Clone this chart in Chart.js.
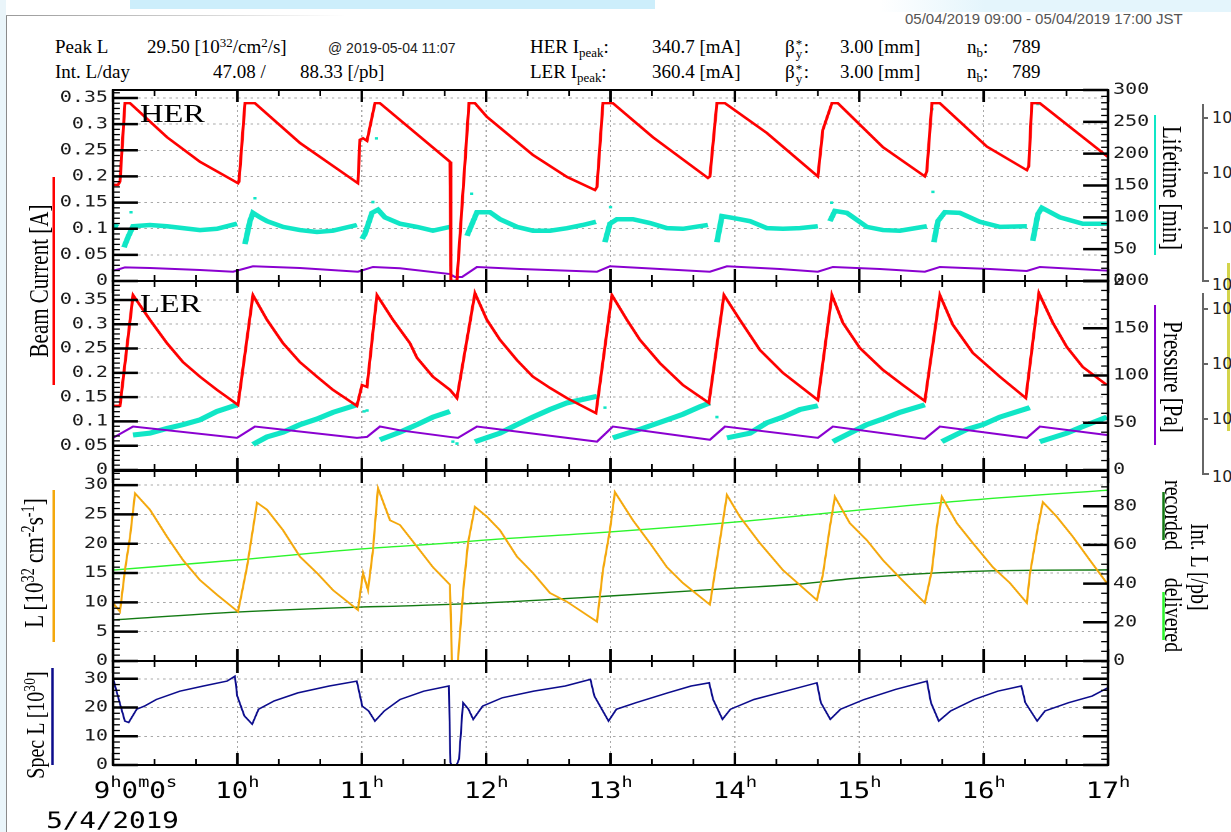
<!DOCTYPE html>
<html>
<head>
<meta charset="utf-8">
<script src="https://cdn.jsdelivr.net/npm/chart.js@4.4.1/dist/chart.umd.min.js"></script>
<style>
html, body { margin: 0; padding: 0; background: #fff; width: 1231px; height: 832px; overflow: hidden; }
body { position: relative; font-family: 'Liberation Serif', serif; color: #000; }
#stage { position: absolute; left: 0; top: 0; width: 985px; height: 832px; transform: scaleX(1.24975); transform-origin: 0 0; }
#stage canvas { position: absolute; left: 0; top: 0; }
.hd { position: absolute; font-size: 19px; line-height: 1; white-space: nowrap; }
.hs { position: absolute; font-family: 'Liberation Sans', sans-serif; font-size: 14px; line-height: 1; white-space: nowrap; color: #222; }
.hd sup, .tl sup, .tr sup { font-size: 0.68em; vertical-align: 0; position: relative; top: -0.5em; }
.hd sub { font-size: 0.68em; vertical-align: 0; position: relative; top: 0.3em; }
.ss { display: inline-block; position: relative; width: 9px; height: 10px; }
.ss i { position: absolute; left: 1px; font-style: normal; font-size: 13px; }
.tl, .tr { position: absolute; white-space: nowrap; font-size: 21px; line-height: 1; }
.tl { transform: translate(-50%, -50%) rotate(-90deg); }
.tr { transform: translate(-50%, -50%) rotate(90deg); }
.bar { position: absolute; }
.big { position: absolute; font-size: 26px; line-height: 1; }
.ten { position: absolute; font-family: 'DejaVu Sans', sans-serif; font-size: 16px; line-height: 1; color: #222; }
</style>
</head>
<body>
<!-- page decoration -->
<div class="bar" style="left:0;top:0;width:6px;height:832px;background:#eaf5fa"></div>
<div class="bar" style="left:6px;top:15px;width:1px;height:817px;background:#8a8a8a"></div>
<div class="bar" style="left:6px;top:15px;width:340px;height:1px;background:linear-gradient(to right,#9a9a9a,#ffffff)"></div>
<div class="bar" style="left:130px;top:0;width:525px;height:9px;background:#cdeefb"></div>
<div class="bar" style="left:880px;top:0;width:351px;height:12px;background:linear-gradient(to right,#ffffff,#e4f5fc 30%,#e4f5fc)"></div>

<div class="hs" style="left:905px;top:11px;font-size:15px;color:#555">05/04/2019 09:00 - 05/04/2019 17:00 JST</div>

<div class="hd" style="left:55px;top:37px">Peak L</div>
<div class="hd" style="left:147px;top:37px">29.50 [10<sup>32</sup>/cm<sup>2</sup>/s]</div>
<div class="hs" style="left:328px;top:41px">@ 2019-05-04 11:07</div>
<div class="hd" style="left:530px;top:37px">HER I<sub>peak</sub>:</div>
<div class="hd" style="left:652px;top:37px">340.7 [mA]</div>
<div class="hd" style="left:785px;top:37px">β<span class="ss"><i style="top:-6px">*</i><i style="top:4px">y</i></span>:</div>
<div class="hd" style="left:840px;top:37px">3.00 [mm]</div>
<div class="hd" style="left:967px;top:37px">n<sub>b</sub>:</div>
<div class="hd" style="left:1012px;top:37px">789</div>

<div class="hd" style="left:55px;top:62px">Int. L/day</div>
<div class="hd" style="left:213px;top:62px">47.08 /</div>
<div class="hd" style="left:300px;top:62px">88.33 [/pb]</div>
<div class="hd" style="left:530px;top:62px">LER I<sub>peak</sub>:</div>
<div class="hd" style="left:652px;top:62px">360.4 [mA]</div>
<div class="hd" style="left:785px;top:62px">β<span class="ss"><i style="top:-6px">*</i><i style="top:4px">y</i></span>:</div>
<div class="hd" style="left:840px;top:62px">3.00 [mm]</div>
<div class="hd" style="left:967px;top:62px">n<sub>b</sub>:</div>
<div class="hd" style="left:1012px;top:62px">789</div>

<!-- cut-off neighbouring axis on the far right -->
<div class="bar" style="left:1202px;top:104px;width:2px;height:178px;background:#666"></div>
<div class="bar" style="left:1202px;top:280px;width:7px;height:2px;background:#666"></div>
<div class="bar" style="left:1202px;top:293px;width:2px;height:182px;background:#666"></div>
<div class="bar" style="left:1202px;top:473px;width:7px;height:2px;background:#666"></div>
<div class="bar" style="left:1202px;top:117px;width:6px;height:2px;background:#666"></div>
<div class="bar" style="left:1202px;top:172px;width:6px;height:2px;background:#666"></div>
<div class="bar" style="left:1202px;top:227px;width:6px;height:2px;background:#666"></div>
<div class="bar" style="left:1202px;top:308px;width:6px;height:2px;background:#666"></div>
<div class="bar" style="left:1202px;top:363px;width:6px;height:2px;background:#666"></div>
<div class="bar" style="left:1202px;top:418px;width:6px;height:2px;background:#666"></div>
<div class="bar" style="left:1227px;top:263px;width:3px;height:168px;background:#d4d44a"></div>
<div class="ten" style="left:1212px;top:110px">10</div>
<div class="ten" style="left:1212px;top:165px">10</div>
<div class="ten" style="left:1212px;top:220px">10</div>
<div class="ten" style="left:1212px;top:277px">10</div>
<div class="ten" style="left:1212px;top:301px">10</div>
<div class="ten" style="left:1212px;top:356px">10</div>
<div class="ten" style="left:1212px;top:411px">10</div>
<div class="ten" style="left:1212px;top:469px">10</div>

<div id="stage">
  <canvas id="c1" width="985" height="832"></canvas>
  <canvas id="c2" width="985" height="832"></canvas>
  <canvas id="c3" width="985" height="832"></canvas>
  <canvas id="c4" width="985" height="832"></canvas>

  <div class="big" style="left:112px;top:101px">HER</div>
  <div class="big" style="left:112px;top:291px">LER</div>

  <div class="tl" style="left:32px;top:281px">Beam Current [A]</div>
  <div class="bar" style="left:41.6px;top:177px;width:2px;height:208px;background:#ff0000"></div>
  <div class="tl" style="left:28px;top:563px">L [10<sup>32</sup> cm<sup>-2</sup>s<sup>-1</sup>]</div>
  <div class="bar" style="left:41.6px;top:490px;width:2px;height:152px;background:#f4a80c"></div>
  <div class="tl" style="left:28px;top:725px;font-size:20px">Spec L [10<sup>30</sup>]</div>
  <div class="bar" style="left:41px;top:668px;width:2px;height:97px;background:#0c0c8c"></div>

  <div class="tr" style="left:937px;top:188px">Lifetime [min]</div>
  <div class="bar" style="left:922.6px;top:115px;width:2px;height:140px;background:#10e6c6"></div>
  <div class="tr" style="left:938px;top:377px">Pressure [Pa]</div>
  <div class="bar" style="left:922.6px;top:305px;width:2px;height:140px;background:#8a00d0"></div>
  <div class="tr" style="left:939px;top:515px;font-size:20px">recorded</div>
  <div class="bar" style="left:929.8px;top:492px;width:2px;height:48px;background:#137a13"></div>
  <div class="tr" style="left:939px;top:615px;font-size:20px">delivered</div>
  <div class="bar" style="left:929.8px;top:592px;width:2px;height:48px;background:#2cf52c"></div>
  <div class="tr" style="left:960px;top:567px;font-size:20px">Int. L [/pb]</div>
</div>

<script>
// ---- time axis ----
const X_MIN = 9, X_MAX = 17;
const hourTicks = [9, 10, 11, 12, 13, 14, 15, 16, 17];
const hourLabels = ['9^h0^m0^s', '10^h', '11^h', '12^h', '13^h', '14^h', '15^h', '16^h', '17^h'];
const dateLabel = '5/4/2019';

// ---- HER panel ----
const herT = [9.000,9.040,9.056,9.096,9.137,9.434,9.699,10.005,10.013,10.061,10.141,10.503,10.969,10.985,11.010,11.042,11.106,11.146,11.307,11.709,11.717,11.765,11.862,11.910,12.006,12.376,12.650,12.875,12.891,12.939,13.019,13.341,13.783,13.799,13.855,13.920,14.257,14.667,14.707,14.780,14.828,15.190,15.527,15.543,15.584,15.648,16.026,16.347,16.363,16.387,16.452,17.000];
const herI = [0.184,0.184,0.19,0.34,0.34,0.275,0.228,0.187,0.19,0.34,0.34,0.264,0.187,0.27,0.273,0.268,0.34,0.34,0.308,0.228,0,0,0.34,0.34,0.314,0.241,0.199,0.174,0.18,0.34,0.34,0.275,0.197,0.2,0.34,0.34,0.283,0.2,0.289,0.34,0.34,0.256,0.2,0.21,0.34,0.34,0.257,0.212,0.22,0.34,0.34,0.237];

const herLifeT = [9.000,9.040,9.060, 9.088,9.121,9.161,9.297,9.434,9.563,9.699,9.836,9.997,10.030, 10.061,10.101,10.125,10.182,10.238,10.367,10.503,10.640,10.768,10.961,10.980, 11.002,11.026,11.082,11.130,11.186,11.307,11.444,11.572,11.709,11.780, 11.846,11.870,11.926,12.031,12.111,12.248,12.376,12.513,12.650,12.778,12.883,12.920, 12.955,12.995,13.051,13.180,13.317,13.453,13.582,13.783,13.820, 13.855,13.896,13.984,14.121,14.257,14.386,14.523,14.667,14.720, 14.764,14.804,14.900,15.061,15.190,15.326,15.543,15.570, 15.600,15.632,15.688,15.809,15.969,16.130,16.347,16.370, 16.395,16.436,16.468,16.613,16.797,16.990];
const herLife = [88,85,null, 53,69,86,88,86,83,80,82,90,null, 58,94,107,100,94,85,80,77,79,88,null, 66,74,107,112,100,90,85,79,85,null, 71,82,108,108,97,85,79,79,83,88,93,null, 61,90,97,97,91,83,82,88,null, 61,102,99,94,83,82,83,86,null, 94,110,107,85,80,79,86,null, 61,94,108,107,93,85,86,null, 63,105,115,100,90,90];
const herOutT = [9.145,10.141,11.090,11.118,11.883,13.000,14.777,15.584,15.592,16.436];
const herOut = [108,130,124,224,137,116,123,270,140,278];

const herPresT = [9.000,9.056,9.096,9.297,9.699,9.965,10.125,10.503,10.969,11.090,11.307,11.709,11.749,11.806,11.926,12.272,12.891,12.995,13.397,13.799,13.936,14.362,14.667,14.788,15.166,15.527,15.648,16.050,16.347,16.452,17.000];
const herPres = [10.8,12.6,14.3,13.6,11.5,9.7,15.4,13.6,9.7,14.7,13.3,7.3,4.2,4.2,14.7,12.6,9.7,15.4,12.6,9.7,15.4,12.6,9.7,14.7,12.6,9.7,14.7,12.6,10.5,14.7,10.8];

// ---- LER panel ----
const lerT = [9.000,9.056,9.161,9.297,9.434,9.563,9.699,9.836,10.005,10.125,10.238,10.367,10.503,10.640,10.768,10.961,11.002,11.042,11.122,11.251,11.387,11.444,11.572,11.709,11.765,11.910,12.006,12.111,12.248,12.376,12.513,12.650,12.883,13.011,13.132,13.236,13.397,13.582,13.791,13.912,14.040,14.201,14.386,14.667,14.780,14.868,15.005,15.190,15.350,15.527,15.648,15.752,15.913,16.130,16.339,16.444,16.556,16.669,16.797,16.990];
const lerI = [0.132,0.132,0.36,0.309,0.261,0.222,0.192,0.165,0.134,0.36,0.309,0.261,0.222,0.192,0.165,0.132,0.175,0.171,0.36,0.309,0.261,0.231,0.192,0.165,0.148,0.364,0.309,0.268,0.226,0.192,0.169,0.148,0.117,0.36,0.309,0.268,0.22,0.175,0.138,0.36,0.309,0.247,0.2,0.144,0.36,0.303,0.251,0.206,0.175,0.142,0.36,0.299,0.241,0.192,0.148,0.364,0.303,0.253,0.212,0.175];

const lerLifeT = [9.161,9.297,9.434,9.563,9.699,9.836,9.997,10.060, 10.125,10.238,10.367,10.503,10.640,10.768,10.961,11.050, 11.146,11.307,11.444,11.572,11.709,11.800, 11.910,12.111,12.248,12.376,12.513,12.650,12.891,12.950, 13.019,13.236,13.453,13.582,13.719,13.799,13.870, 13.936,14.121,14.257,14.386,14.523,14.667,14.720, 14.788,14.924,15.061,15.190,15.326,15.527,15.600, 15.664,15.865,15.994,16.130,16.371,16.410, 16.452,16.669,16.797,16.990];
const lerLife = [37,39,44,48,53,62,69,null, 27,35,40,48,54,61,69,null, 32,40,48,56,62,null, 30,39,48,56,64,71,78,null, 34,43,53,59,67,71,null, 34,39,50,56,64,68,null, 30,39,48,54,61,69,null, 30,43,48,56,66,null, 30,39,46,56];
const lerOutT = [11.018,11.042,11.733,11.765,12.955,13.855];
const lerOut = [62,63,30,28,66,56];

const lerPresT = [9.000,9.161,9.997,10.141,10.961,11.042,11.146,11.307,11.709,11.773,11.926,12.891,13.019,13.799,13.920,14.667,14.788,15.527,15.648,16.347,16.452,16.990];
const lerPres = [34,46,34,46,34,35,46,42,35,34,46,30,46,32,46,34,46,33,46,34,46,37];

// ---- luminosity panel ----
const lumT = [9.000,9.056,9.096,9.137,9.177,9.297,9.434,9.563,9.699,9.836,10.005,10.077,10.158,10.238,10.367,10.503,10.640,10.768,10.969,11.010,11.050,11.090,11.130,11.227,11.307,11.444,11.572,11.709,11.725,11.773,11.814,11.854,11.910,12.006,12.111,12.248,12.376,12.513,12.650,12.891,12.939,12.995,13.035,13.180,13.317,13.453,13.582,13.799,13.855,13.936,14.040,14.201,14.386,14.659,14.707,14.764,14.804,14.924,15.061,15.190,15.326,15.527,15.584,15.624,15.664,15.785,15.913,16.074,16.211,16.347,16.371,16.436,16.476,16.588,16.717,16.854,16.990];
const lum = [9.9,8.4,15.5,21.2,28.6,25.8,21.2,17.2,13.8,11.3,8.4,16.0,27.0,25.8,22.3,17.8,15.0,12.1,8.7,15.0,12.1,18.9,29.5,24.0,23.2,19.5,16.0,13.0,0,0,11.6,20.1,26.3,24.6,22.3,17.8,15.0,11.6,10.1,6.7,15.5,22.3,28.8,24.0,20.1,16.0,13.3,9.6,17.2,28.3,24.6,20.1,15.5,10.4,14.7,22.9,28.0,23.5,20.6,17.2,14.2,9.9,15.5,22.9,28.0,23.5,20.1,16.0,13.3,9.9,14.7,22.9,27.1,24.6,21.2,17.2,13.3];
const delT = [9.000,9.997,10.994,11.709,11.990,12.995,14.000,14.997,16.002,17.000];
const delivered = [47.0,52.2,57.9,61.0,62.5,66.7,71.8,78.0,83.7,88.3];
const recT = [9.000,9.997,10.994,11.307,11.990,12.995,14.000,14.523,14.997,16.002,17.000];
const recorded = [21.2,25.3,27.9,28.4,30.0,33.6,37.7,39.8,42.9,46.5,47.1];

// ---- specific luminosity panel ----
const specT = [9.000,9.032,9.095,9.126,9.190,9.253,9.348,9.537,9.727,9.917,9.980,9.999,10.056,10.119,10.170,10.296,10.486,10.739,10.960,11.004,11.055,11.106,11.181,11.308,11.498,11.700,11.713,11.719,11.763,11.782,11.814,11.858,11.896,11.972,12.130,12.383,12.636,12.838,12.870,12.984,13.047,13.205,13.458,13.648,13.793,13.825,13.900,13.964,14.153,14.406,14.659,14.691,14.767,14.849,15.039,15.291,15.544,15.576,15.639,15.734,15.924,16.113,16.303,16.335,16.430,16.493,16.683,16.872,16.999];
const spec = [30.3,25.1,15.3,14.8,19.4,20.5,22.8,25.7,27.5,29.2,30.9,24.0,17.1,14.2,19.4,22.3,25.1,27.5,29.2,20.5,18.8,15.3,18.8,22.8,25.7,27.5,0.9,0,0,2.1,21.7,19.4,15.9,20.5,23.4,25.7,27.5,29.8,24.0,15.3,19.4,21.7,25.1,27.5,28.6,22.8,15.9,19.4,22.8,25.7,28.6,21.7,15.9,19.4,22.8,26.3,29.2,21.7,15.3,18.8,22.8,25.7,27.5,21.7,15.3,18.8,21.7,24.0,26.9];

// ---- axis ticks ----
const currTicks = [0, 0.05, 0.1, 0.15, 0.2, 0.25, 0.3, 0.35];
const currLabels = ['0', '0.05', '0.1', '0.15', '0.2', '0.25', '0.3', '0.35'];
const lifeTicks = [0, 50, 100, 150, 200, 250, 300];
const presTicks = [0, 50, 100, 150, 200];
const lumTicks = [0, 5, 10, 15, 20, 25, 30];
const intTicks = [0, 20, 40, 60, 80];
const specTicks = [0, 10, 20, 30];

// ---- layout (stage units, stage is stretched 1.25x horizontally) ----
const W = 985;
const AREA_L = 90.42, AREA_R = 886.6, RIGHT_W = 40;
const MONO = "'DejaVu Sans Mono', monospace";

const pts = (ts, vs) => ts.map((t, i) => ({x: t, y: vs[i]}));

function yAxis(pos, min, max, ticks, labels) {
  return {
    position: pos, min: min, max: max,
    afterBuildTicks: s => { s.ticks = ticks.map(v => ({value: v})); },
    afterFit: s => { s.width = pos === 'left' ? AREA_L : RIGHT_W; },
    ticks: {display: !!labels, font: {family: MONO, size: 16}, color: '#1a1a1a', padding: 4,
            callback: (v, i) => labels ? labels[i] : ''},
    grid: {display: pos === 'left', drawTicks: false, color: '#a8a8a8', lineWidth: 1},
    border: {display: false, dash: [2, 3]}
  };
}
const hidden = (min, max) => ({display: false, min: min, max: max});

const xAxis = {
  type: 'linear', min: X_MIN, max: X_MAX,
  afterBuildTicks: s => { s.ticks = hourTicks.map(v => ({value: v})); },
  afterFit: s => { s.height = 0; },
  ticks: {display: false},
  grid: {drawTicks: false, color: '#a8a8a8', lineWidth: 1},
  border: {display: false, dash: [2, 3]}
};

function line(data, color, width, axis, smooth) {
  return {data: data, borderColor: color, backgroundColor: color, borderWidth: width,
          pointRadius: 0, tension: smooth ? 0.4 : 0, cubicInterpolationMode: smooth ? 'monotone' : 'default',
          yAxisID: axis, spanGaps: false};
}
function dots(data, color, axis) {
  return {data: data, showLine: false, pointStyle: 'rect', pointRadius: 1.8, borderWidth: 0,
          backgroundColor: color, borderColor: color, yAxisID: axis};
}

// inward ticks and frame box
const framePlugin = {
  id: 'frame',
  afterDraw(chart, args, o) {
    const {ctx, chartArea: a, scales} = chart;
    const xs = scales.x;
    ctx.save();
    ctx.strokeStyle = '#000';
    const seg = (x1, y1, x2, y2, w) => { ctx.lineWidth = w; ctx.beginPath(); ctx.moveTo(x1, y1); ctx.lineTo(x2, y2); ctx.stroke(); };
    for (let k = 0; k <= (X_MAX - X_MIN) * 3; k++) {
      const px = xs.getPixelForValue(X_MIN + k / 3);
      const major = k % 3 === 0;
      const len = major ? 12 : 6;
      seg(px, a.top, px, a.top + len, major ? 2 : 1.4);
      seg(px, a.bottom, px, a.bottom - len, major ? 2 : 1.4);
    }
    ['left', 'right'].forEach(side => {
      const t = o[side];
      if (!t) return;
      const s = scales[t.id];
      const n = Math.floor(s.max / t.minor + 1e-6);
      for (let k = 0; k <= n; k++) {
        const v = k * t.minor;
        const py = s.getPixelForValue(v);
        const major = Math.abs(v / t.major - Math.round(v / t.major)) < 1e-6;
        const len = major ? 20 : 5.5;
        if (side === 'left') seg(a.left, py, a.left + len, py, major ? 2.5 : 1.3);
        else seg(a.right, py, a.right - len, py, major ? 2.5 : 1.3);
      }
    });
    ctx.lineWidth = 2;
    ctx.strokeRect(a.left, a.top, a.right - a.left, a.bottom - a.top);
    ctx.restore();
  }
};

// hour labels with superscripts under the last panel
const hourPlugin = {
  id: 'hours',
  afterDraw(chart) {
    const {ctx} = chart;
    const xs = chart.scales.x;
    const MAIN = '22px ' + MONO, SUP = '15px ' + MONO;
    ctx.save();
    ctx.fillStyle = '#000';
    hourTicks.forEach((h, i) => {
      const parts = [];
      const s = hourLabels[i];
      for (let j = 0; j < s.length; j++) {
        if (s[j] === '^') { parts.push({t: s[j + 1], sup: true}); j++; }
        else parts.push({t: s[j], sup: false});
      }
      let w = 0;
      parts.forEach(p => { ctx.font = p.sup ? SUP : MAIN; p.w = ctx.measureText(p.t).width; w += p.w; });
      let x = i === 0 ? 75 : xs.getPixelForValue(h) - w / 2;
      parts.forEach(p => {
        ctx.font = p.sup ? SUP : MAIN;
        ctx.fillText(p.t, x, p.sup ? 787 : 798);
        x += p.w;
      });
    });
    ctx.font = '22px ' + MONO;
    ctx.fillText(dateLabel, 37, 828);
    ctx.restore();
  }
};

function makePanel(id, top, bottom, hasRight, scales, datasets, ticksCfg, extraPlugins) {
  scales.x = xAxis;
  return new Chart(document.getElementById(id), {
    type: 'line',
    data: {datasets: datasets},
    options: {
      responsive: false, animation: false, devicePixelRatio: 2, events: [],
      layout: {padding: {left: 0, top: top, bottom: 832 - bottom, right: W - AREA_R - (hasRight ? RIGHT_W : 0)}},
      scales: scales,
      plugins: {legend: {display: false}, tooltip: {enabled: false}, frame: ticksCfg}
    },
    plugins: [framePlugin].concat(extraPlugins || [])
  });
}

const RED = '#ff0000', CYAN = '#10e6c6', PURPLE = '#8a00d0', ORANGE = '#f4a80c',
      LGREEN = '#2cf52c', DGREEN = '#137a13', NAVY = '#0c0c8c';

makePanel('c1', 90, 281, true,
  {yL: yAxis('left', 0, 0.3653, currTicks, currLabels),
   yR: yAxis('right', 0, 300, lifeTicks, lifeTicks.map(String)),
   yP: hidden(0, 200)},
  [line(pts(herT, herI), RED, 2.4, 'yL', false),
   dots(pts(herOutT, herOut), CYAN, 'yR'),
   line(pts(herLifeT, herLife), CYAN, 4.5, 'yR', false),
   line(pts(herPresT, herPres), PURPLE, 2, 'yP', false)],
  {left: {id: 'yL', minor: 0.01, major: 0.05}, right: {id: 'yR', minor: 10, major: 50}});

makePanel('c2', 281, 470, true,
  {yL: yAxis('left', 0, 0.389, currTicks, currLabels),
   yR: yAxis('right', 0, 200, presTicks, presTicks.map(String)),
   yLife: hidden(0, 200)},
  [line(pts(lerT, lerI), RED, 2.4, 'yL', false),
   line(pts(lerPresT, lerPres), PURPLE, 2, 'yR', false),
   dots(pts(lerOutT, lerOut), CYAN, 'yLife'),
   line(pts(lerLifeT, lerLife), CYAN, 5, 'yLife', false)],
  {left: {id: 'yL', minor: 0.01, major: 0.05}, right: {id: 'yR', minor: 10, major: 50}});

makePanel('c3', 471, 661, true,
  {yL: yAxis('left', 0, 32.4, lumTicks, lumTicks.map(String)),
   yR: yAxis('right', 0, 98.2, intTicks, intTicks.map(String))},
  [line(pts(lumT, lum), ORANGE, 1.7, 'yL', false),
   line(pts(delT, delivered), LGREEN, 1.4, 'yR', true),
   line(pts(recT, recorded), DGREEN, 1.4, 'yR', true)],
  {left: {id: 'yL', minor: 1, major: 5}, right: {id: 'yR', minor: 5, major: 20}});

makePanel('c4', 661, 765, false,
  {yL: yAxis('left', 0, 36.2, specTicks, specTicks.map(String))},
  [line(pts(specT, spec), NAVY, 1.5, 'yL', false)],
  {left: {id: 'yL', minor: 2, major: 10}, right: {id: 'yL', minor: 2, major: 10}},
  [hourPlugin]);
</script>
</body>
</html>
